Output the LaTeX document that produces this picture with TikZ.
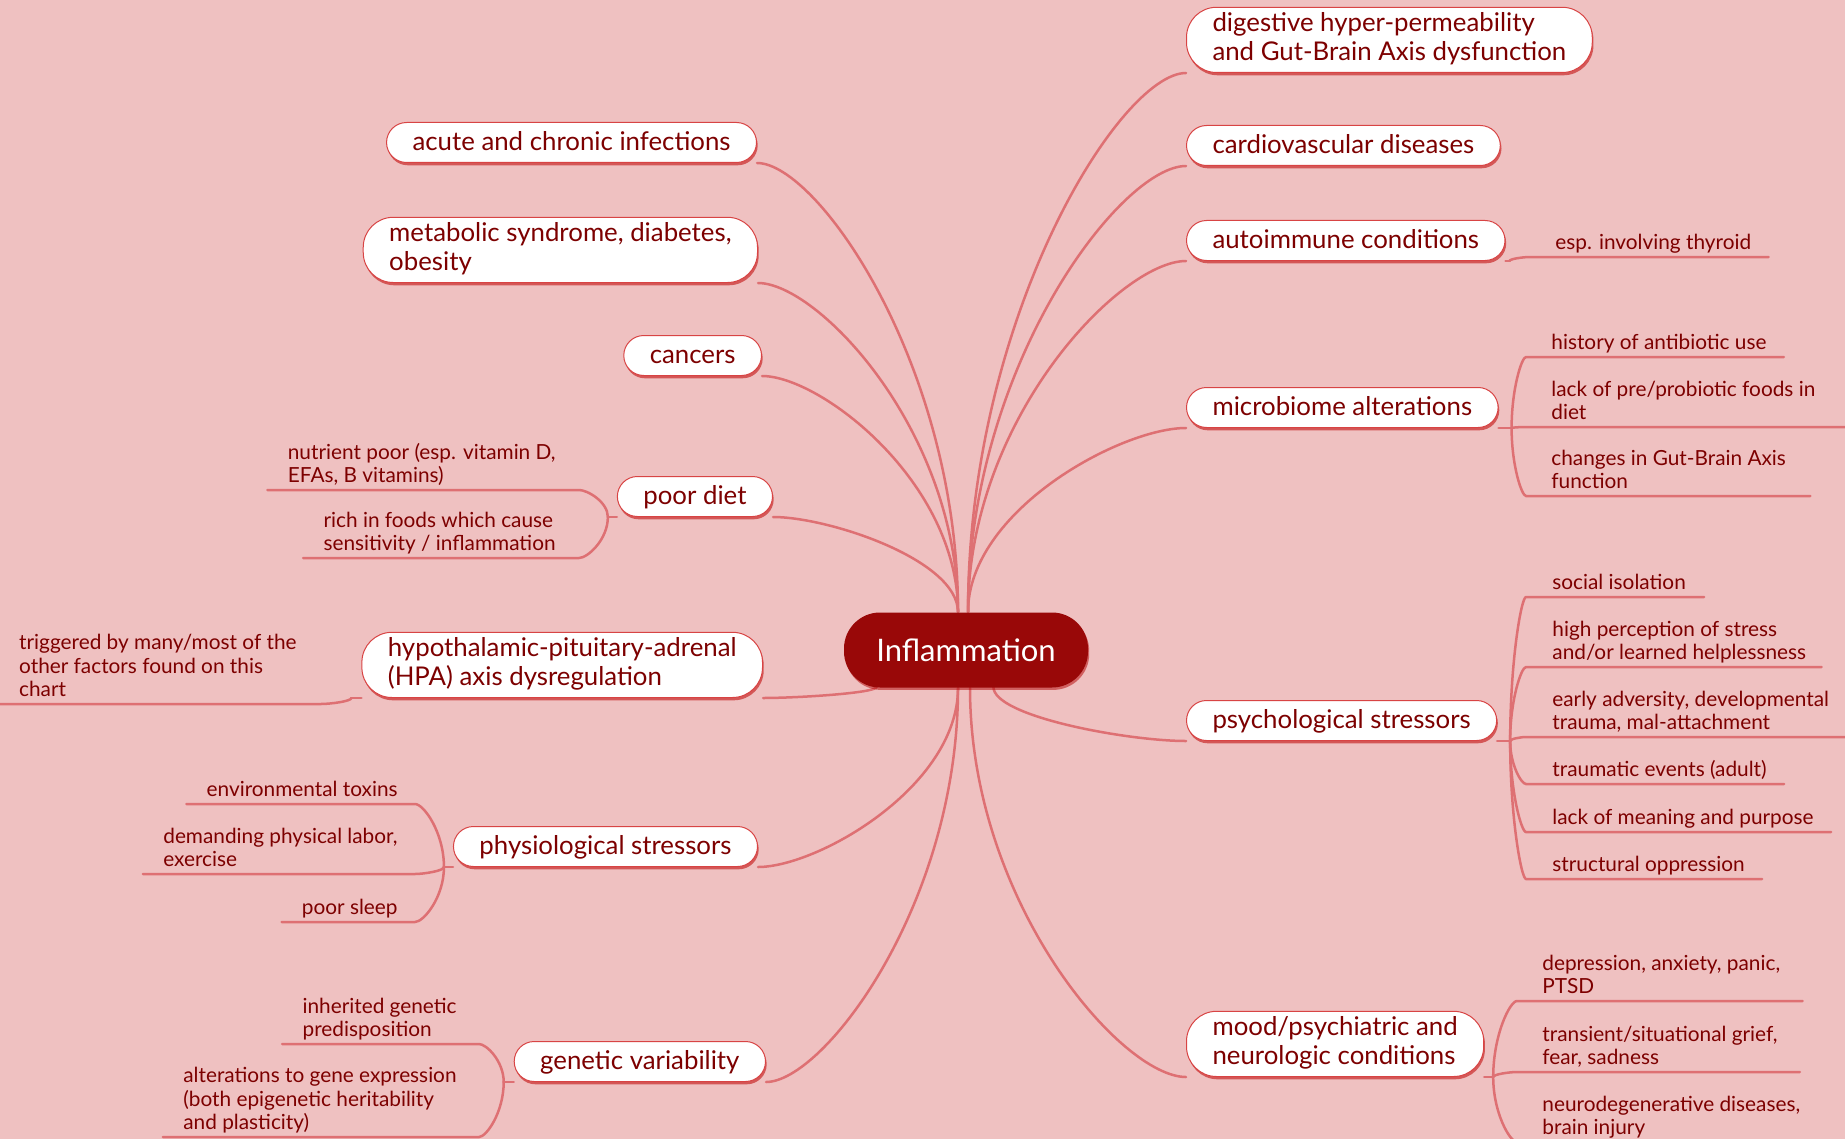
\documentclass[tikz,border=0pt]{standalone}
\usepackage{fontspec}
\setmainfont{Lato}
\usepackage{tikz}
\usetikzlibrary{positioning,calc,backgrounds,shadows}
\definecolor{mapbg}{HTML}{EFC1C1}
\definecolor{mapline}{HTML}{DE7073}
\definecolor{mapink}{HTML}{7D0000}
\definecolor{maphub}{HTML}{990808}
\definecolor{mapedge}{HTML}{D84444}
\tikzset{
  hub/.style={fill=maphub, text=white, rounded corners=18pt, minimum width=122pt,
              minimum height=37.5pt, font=\fontsize{15.5}{18}\selectfont,
              drop shadow={shadow xshift=0.6pt, shadow yshift=-1.2pt, fill=red!70!black, opacity=0.5}},
  topic/.style={draw=mapedge, line width=0.5pt, fill=white, rounded corners=10pt, align=left,
                text=mapink, inner xsep=13pt, inner ysep=2.75pt,
                font=\fontsize{12.9}{14.5}\selectfont,
                execute at begin node={\rule{0pt}{11.4pt}},
                execute at end node={\rule[-3.1pt]{0pt}{3.1pt}},
                drop shadow={shadow xshift=0.6pt, shadow yshift=-1.4pt, fill=red!75!black, opacity=0.55}},
  topic2/.style={topic, rounded corners=15pt,
                 execute at begin node={\rule{0pt}{12.5pt}},
                 execute at end node={\rule[-2pt]{0pt}{2pt}}},
  detail/.style={align=left, text=mapink, inner xsep=0pt, inner ysep=0pt,
                 font=\fontsize{10.4}{11.7}\selectfont, execute at end node=\strut},
  link/.style={draw=mapline, line width=1.25pt, line cap=round},
  branch/.style={to path={.. controls ($(\tikztostart)!0.55!(\tikztostart|-\tikztotarget)$)
                 and ($(\tikztotarget)!0.3!(\tikztotarget-|\tikztostart)$) .. (\tikztotarget)}},
}

\begin{document}
\begin{tikzpicture}[x=0.5pt,y=-0.5pt]
  \useasboundingbox (0,0) rectangle (1845,1139);
  \node[hub] (root) at (966,650) {Inflammation};
  % RIGHT: topics
  \node[topic2, anchor=south west] (gut) at (1186,73) {digestive hyper-permeability\\and Gut-Brain Axis dysfunction};
  \node[topic, anchor=south west] (cardio) at (1186,166) {cardiovascular diseases};
  \node[topic, anchor=south west] (auto) at (1186,261) {autoimmune conditions};
  \node[topic, anchor=south west] (micro) at (1186,428) {microbiome alterations};
  \node[topic, anchor=south west] (psych) at (1186,741) {psychological stressors};
  \node[topic2, anchor=south west] (mood) at (1186,1077) {mood/psychiatric and\\neurologic conditions};
  % LEFT: topics
  \node[topic, anchor=south east] (infect) at (757,163) {acute and chronic infections};
  \node[topic2, anchor=south east] (metab) at (758,283) {metabolic syndrome, diabetes,\\obesity};
  \node[topic, anchor=south east] (cancer) at (762,376) {cancers};
  \node[topic, anchor=south east] (diet) at (773,517) {poor diet};
  \node[topic2, anchor=south east] (hpa) at (763,698) {hypothalamic-pituitary-adrenal\\(HPA) axis dysregulation};
  \node[topic, anchor=south east] (physio) at (758,867) {physiological stressors};
  \node[topic, anchor=south east] (gene) at (766,1082) {genetic variability};

  % RIGHT: details, underline starts
  \coordinate (a1) at (1530,257);
  \coordinate (m1) at (1526,357);
  \coordinate (m2) at (1526,427);
  \coordinate (m3) at (1526,496);
  \coordinate (p1) at (1526,597);
  \coordinate (p2) at (1526,667);
  \coordinate (p3) at (1526,737);
  \coordinate (p4) at (1526,784);
  \coordinate (p5) at (1526,832);
  \coordinate (p6) at (1526,879);
  \coordinate (n1) at (1517,1001);
  \coordinate (n2) at (1517,1072);
  \coordinate (n3) at (1517,1142);
  \node[detail, anchor=south west] (auto1) at ($(a1)+(25,0)$) {esp. involving thyroid};
  \node[detail, anchor=south west] (micro1) at ($(m1)+(25,0)$) {history of antibiotic use};
  \node[detail, anchor=south west] (micro2) at ($(m2)+(25,0)$) {lack of pre/probiotic foods in\\diet};
  \node[detail, anchor=south west] (micro3) at ($(m3)+(25,0)$) {changes in Gut-Brain Axis\\function};
  \node[detail, anchor=south west] (psych1) at ($(p1)+(26,0)$) {social isolation};
  \node[detail, anchor=south west] (psych2) at ($(p2)+(26,0)$) {high perception of stress\\and/or learned helplessness};
  \node[detail, anchor=south west] (psych3) at ($(p3)+(26,0)$) {early adversity, developmental\\trauma, mal-attachment};
  \node[detail, anchor=south west] (psych4) at ($(p4)+(26,0)$) {traumatic events (adult)};
  \node[detail, anchor=south west] (psych5) at ($(p5)+(26,0)$) {lack of meaning and purpose};
  \node[detail, anchor=south west] (psych6) at ($(p6)+(26,0)$) {structural oppression};
  \node[detail, anchor=south west] (mood1) at ($(n1)+(25,0)$) {depression, anxiety, panic,\\PTSD};
  \node[detail, anchor=south west] (mood2) at ($(n2)+(25,0)$) {transient/situational grief,\\fear, sadness};
  \node[detail, anchor=south west] (mood3) at ($(n3)+(25,0)$) {neurodegenerative diseases,\\brain injury};

  % LEFT: details, underline ends
  \coordinate (d1) at (579,490);
  \coordinate (d2) at (579,558);
  \coordinate (h1) at (321,704);
  \coordinate (s1) at (415,804);
  \coordinate (s2) at (415,874);
  \coordinate (s3) at (415,922);
  \coordinate (g1) at (479,1044);
  \coordinate (g2) at (479,1137);
  \node[detail, anchor=south east] (diet1) at ($(d1)+(-23,0)$) {nutrient poor (esp. vitamin D,\\EFAs, B vitamins)};
  \node[detail, anchor=south east] (diet2) at ($(d2)+(-23,0)$) {rich in foods which cause\\sensitivity / inflammation};
  \node[detail, anchor=south east] (hpa1) at ($(h1)+(-24,0)$) {triggered by many/most of the\\other factors found on this\\chart};
  \node[detail, anchor=south east] (physio1) at ($(s1)+(-17,0)$) {environmental toxins};
  \node[detail, anchor=south east] (physio2) at ($(s2)+(-17,0)$) {demanding physical labor,\\exercise};
  \node[detail, anchor=south east] (physio3) at ($(s3)+(-17,0)$) {poor sleep};
  \node[detail, anchor=south east] (gene1) at ($(g1)+(-22,0)$) {inherited genetic\\predisposition};
  \node[detail, anchor=south east] (gene2) at ($(g2)+(-22,0)$) {alterations to gene expression\\(both epigenetic heritability\\and plasticity)};

  % junctions
  \coordinate (topl) at ($(root.north)+(-8,0)$);
  \coordinate (topr) at ($(root.north)+(2,0)$);
  \coordinate (botl) at ($(root.south)+(-8,0)$);
  \coordinate (botr) at ($(root.south)+(4,0)$);
  \coordinate (hpaend) at ($(root.south west)+(33,-1)$);
  \coordinate (psyend) at ($(root.south east)+(-95,-1)$);
  \coordinate (autoj) at ($(auto.south east)+(4,0)$);
  \coordinate (microj) at ($(micro.south east)+(13,0)$);
  \coordinate (psychj) at ($(psych.south east)+(13,0)$);
  \coordinate (moodj) at ($(mood.south east)+(9,0)$);
  \coordinate (dietj) at ($(diet.south west)+(-9,0)$);
  \coordinate (hpaj) at ($(hpa.south west)+(-10,0)$);
  \coordinate (physioj) at ($(physio.south west)+(-9,0)$);
  \coordinate (genej) at ($(gene.south west)+(-10,0)$);

  \begin{scope}[on background layer]
    \fill[mapbg] (0,0) rectangle (1845,1139);
    % main branches
    \draw[link] (topl) to[branch] (infect.south east);
    \draw[link] (topl) to[branch] (metab.south east);
    \draw[link] (topl) to[branch] (cancer.south east);
    \draw[link] (topl) to[branch] (diet.south east);
    \draw[link] (hpaend) to[branch] (hpa.south east);
    \draw[link] (botl) to[branch] (physio.south east);
    \draw[link] (botl) to[branch] (gene.south east);
    \draw[link] (topr) to[branch] (gut.south west);
    \draw[link] (topr) to[branch] (cardio.south west);
    \draw[link] (topr) to[branch] (auto.south west);
    \draw[link] (topr) to[branch] (micro.south west);
    \draw[link] (psyend) to[branch] (psych.south west);
    \draw[link] (botr) to[branch] (mood.south west);
    % right sub-branches
    \draw[link] (auto.south east) -- (autoj);
    \draw[link] (autoj) to[branch] (a1) -- ($(auto1.south east)+(17,0)$);
    \draw[link] (micro.south east) -- (microj);
    \draw[link] (microj) to[branch] (m1) -- ($(micro1.south east)+(17,0)$);
    \draw[link] (microj) to[branch] (m2) -- ($(micro2.south east)+(30,0)$);
    \draw[link] (microj) to[branch] (m3) -- ($(micro3.south east)+(24,0)$);
    \draw[link] (psych.south east) -- (psychj);
    \draw[link] (psychj) to[branch] (p1) -- ($(psych1.south east)+(18,0)$);
    \draw[link] (psychj) to[branch] (p2) -- ($(psych2.south east)+(15,0)$);
    \draw[link] (psychj) to[branch] (p3) -- ($(psych3.south east)+(30,0)$);
    \draw[link] (psychj) to[branch] (p4) -- ($(psych4.south east)+(17,0)$);
    \draw[link] (psychj) to[branch] (p5) -- ($(psych5.south east)+(17,0)$);
    \draw[link] (psychj) to[branch] (p6) -- ($(psych6.south east)+(17,0)$);
    \draw[link] (mood.south east) -- (moodj);
    \draw[link] (moodj) to[branch] (n1) -- ($(mood1.south east)+(22,0)$);
    \draw[link] (moodj) to[branch] (n2) -- ($(mood2.south east)+(22,0)$);
    \draw[link] (moodj) to[branch] (n3) -- ($(mood3.south east)+(22,0)$);
    % left sub-branches
    \draw[link] (diet.south west) -- (dietj);
    \draw[link] (dietj) to[branch] (d1) -- ($(diet1.south west)+(-20,0)$);
    \draw[link] (dietj) to[branch] (d2) -- ($(diet2.south west)+(-20,0)$);
    \draw[link] (hpa.south west) -- (hpaj);
    \draw[link] (hpaj) to[branch] (h1) -- ($(hpa1.south west)+(-20,0)$);
    \draw[link] (physio.south west) -- (physioj);
    \draw[link] (physioj) to[branch] (s1) -- ($(physio1.south west)+(-20,0)$);
    \draw[link] (physioj) to[branch] (s2) -- ($(physio2.south west)+(-20,0)$);
    \draw[link] (physioj) to[branch] (s3) -- ($(physio3.south west)+(-20,0)$);
    \draw[link] (gene.south west) -- (genej);
    \draw[link] (genej) to[branch] (g1) -- ($(gene1.south west)+(-20,0)$);
    \draw[link] (genej) to[branch] (g2) -- ($(gene2.south west)+(-20,0)$);
  \end{scope}
\end{tikzpicture}
\end{document}
